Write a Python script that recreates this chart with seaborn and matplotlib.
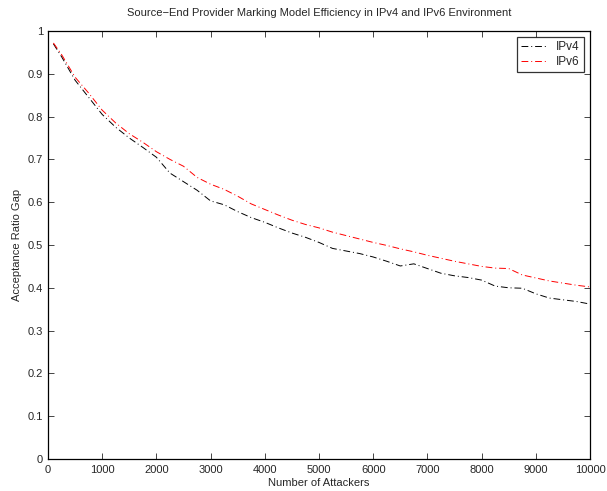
import numpy as np
import pandas as pd
import matplotlib
matplotlib.use("Agg")
import matplotlib.pyplot as plt
import seaborn as sns

attackers = [100, 250, 500, 750, 1000, 1250, 1500, 1750, 2000, 2250, 2500, 2750,
             3000, 3250, 3500, 3750, 4000, 4250, 4500, 4750, 5000, 5250, 5500,
             5750, 6000, 6250, 6500, 6750, 7000, 7250, 7500, 7750, 8000, 8250,
             8500, 8750, 9000, 9250, 9500, 9750, 10000]
ipv4 = [0.97, 0.94, 0.885, 0.845, 0.805, 0.775, 0.750, 0.728, 0.705, 0.668,
        0.648, 0.628, 0.603, 0.594, 0.578, 0.564, 0.553, 0.540, 0.528, 0.518,
        0.506, 0.492, 0.486, 0.480, 0.472, 0.462, 0.451, 0.456, 0.445, 0.434,
        0.428, 0.424, 0.418, 0.404, 0.400, 0.399, 0.386, 0.376, 0.372, 0.368,
        0.362]
ipv6 = [0.972, 0.945, 0.892, 0.855, 0.815, 0.785, 0.760, 0.740, 0.718, 0.700,
        0.684, 0.658, 0.642, 0.630, 0.614, 0.596, 0.583, 0.570, 0.558, 0.548,
        0.540, 0.530, 0.522, 0.514, 0.506, 0.499, 0.491, 0.484, 0.476, 0.469,
        0.462, 0.456, 0.450, 0.446, 0.445, 0.430, 0.423, 0.416, 0.411, 0.406,
        0.402]
series_names = ["IPv4", "IPv6"]
title = "Source\u2212End Provider Marking Model Efficiency in IPv4 and IPv6 Environment"
xlabel = "Number of Attackers"
ylabel = "Acceptance Ratio Gap"

df = pd.DataFrame({
    "x": attackers * 2,
    "y": ipv4 + ipv6,
    "series": [series_names[0]] * len(attackers) + [series_names[1]] * len(attackers),
})

sns.set_style("ticks")
plt.rcParams["font.family"] = ["Liberation Sans", "DejaVu Sans"]
plt.rcParams["xtick.direction"] = "in"
plt.rcParams["ytick.direction"] = "in"

fig = plt.figure(figsize=(6.07, 4.91), dpi=100)
ax = fig.add_axes([48 / 607, 1 - 459 / 491, (590 - 48) / 607, (459 - 31) / 491])

sns.lineplot(data=df, x="x", y="y", hue="series", palette=["black", "red"],
             ax=ax, linewidth=0.7, legend=False)
for line in ax.lines:
    line.set_linestyle((0, (7, 3, 1, 3)))

ax.set_xlim(0, 10000)
ax.set_ylim(0, 1)
ax.set_xticks(np.arange(0, 10001, 1000))
ax.set_yticks(np.arange(0, 1.01, 0.1))
ax.set_yticklabels(["0", "0.1", "0.2", "0.3", "0.4", "0.5", "0.6", "0.7", "0.8", "0.9", "1"])
ax.tick_params(axis="x", pad=4.5)
ax.tick_params(axis="both", labelsize=8, length=4, width=0.6, top=True, right=True)
for s in ax.spines.values():
    s.set_linewidth(0.9)
    s.set_color("black")
ax.set_xlabel(xlabel, fontsize=8, labelpad=2)
ax.set_ylabel(ylabel, fontsize=8, labelpad=4)
ax.set_title(title, fontsize=8, pad=11)

leg = ax.legend(ax.lines, series_names, loc="upper right", fontsize=8.5,
                frameon=True, fancybox=False, handlelength=2.2,
                borderaxespad=0.5, borderpad=0.35, labelspacing=0.25,
                handletextpad=0.8)
leg.get_frame().set_edgecolor("black")
leg.get_frame().set_linewidth(0.9)

fig.savefig("out.png", dpi=100)
